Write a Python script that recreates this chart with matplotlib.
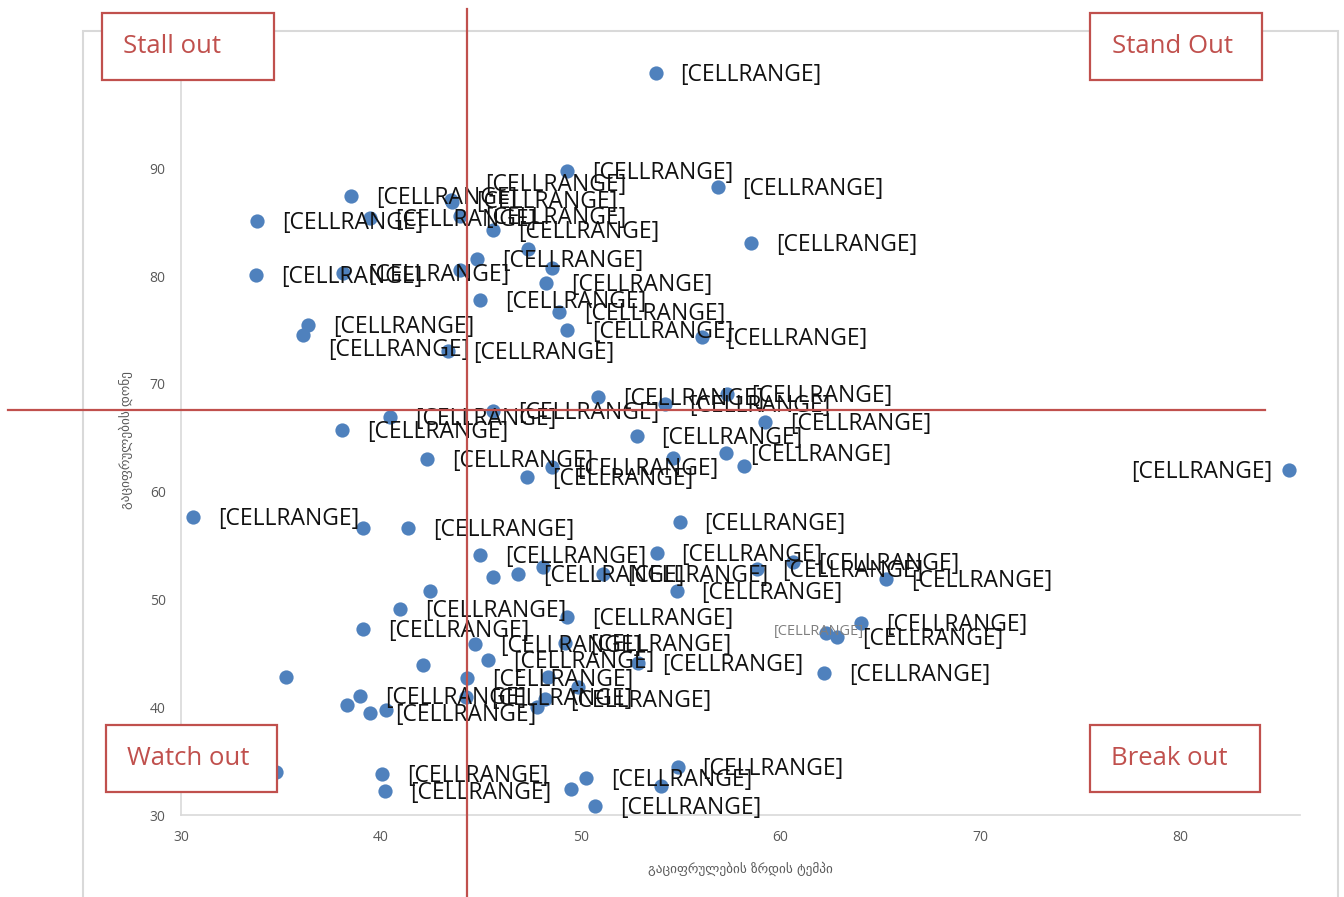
import matplotlib
matplotlib.use('Agg')
import matplotlib.pyplot as plt
from matplotlib.patches import Rectangle

# გაციფრულების ზრდის ტემპი / გაციფრულების დონე
growth = [53.75, 49.3, 56.85, 38.5, 43.5, 33.8, 39.45, 43.95, 45.6, 58.55,
          47.35, 44.8, 48.55, 43.95, 33.75, 38.1, 48.25, 44.95, 48.9, 36.35,
          36.1, 49.3, 56.05, 43.35, 50.85, 54.2, 57.3, 45.6, 40.45, 59.25,
          38.05, 52.8, 42.3, 54.6, 57.25, 48.55, 58.2, 47.3, 85.45, 30.6,
          39.1, 41.35, 54.95, 44.95, 53.8, 60.65, 45.6, 46.85, 48.1, 51.1,
          58.85, 65.3, 42.45, 54.8, 40.95, 49.3, 39.1, 64.05, 62.3, 62.85,
          44.7, 49.2, 45.35, 52.85, 42.1, 62.2, 35.25, 44.3, 48.35, 49.85,
          38.95, 38.3, 39.45, 40.25, 47.8, 48.2, 34.75, 40.05, 40.2, 50.25,
          49.5, 50.7, 54.85, 54.0, 43.55, 44.25]
level = [98.9, 89.8, 88.3, 87.4, 87.1, 85.1, 85.4, 85.6, 84.3, 83.1,
         82.5, 81.6, 80.8, 80.6, 80.1, 80.3, 79.4, 77.8, 76.7, 75.5,
         74.5, 75.0, 74.4, 73.1, 68.8, 68.1, 69.1, 67.5, 66.9, 66.5,
         65.7, 65.2, 63.0, 63.1, 63.6, 62.3, 62.4, 61.4, 62.0, 57.7,
         56.6, 56.6, 57.2, 54.1, 54.3, 53.5, 52.1, 52.4, 53.0, 52.4,
         52.8, 51.9, 50.8, 50.8, 49.1, 48.4, 47.3, 47.8, 46.9, 46.5,
         45.9, 46.0, 44.4, 44.1, 43.9, 43.2, 42.8, 42.7, 42.8, 41.9,
         41.0, 40.2, 39.5, 39.7, 40.0, 40.8, 34.0, 33.8, 32.2, 33.4,
         32.4, 30.8, 34.5, 32.7, 86.9, 40.95]

# points whose label is not visible in the chart (0-based)
no_label = {10, 12, 13, 33, 36, 40, 46, 48, 52, 64, 66, 68, 69, 71, 73, 74, 76, 80, 83}
labels = ['' if i in no_label else '[CELLRANGE]' for i in range(len(growth))]

x_ticks = [30, 40, 50, 60, 70, 80]
y_ticks = [30, 40, 50, 60, 70, 80, 90]
x_split = 44.3
y_split = 67.55
quadrants = ['Stall out', 'Stand Out', 'Watch out', 'Break out']

red = '#C0504D'
blue = '#4F81BD'
W, H = 1344, 897

fig = plt.figure(figsize=(W / 100, H / 100), dpi=100)
ax = fig.add_axes([181 / W, 1 - 815 / H, 1119 / W, 750 / H])

# outer chart border
fig.add_artist(Rectangle((83 / W, -0.02), 1255 / W, 1 - 31 / H + 0.02,
                         transform=fig.transFigure, fill=False,
                         edgecolor='#D9D9D9', lw=1.5, zorder=0))

ax.scatter(growth, level, s=105, color=blue, zorder=3, linewidths=0)

for i, (gx, ly, lab) in enumerate(zip(growth, level, labels)):
    if not lab:
        continue
    dx, dy, ha = 25, -2, 'left'
    size, col = 16.5, '#111111'
    if i == 38:
        dx, ha = -17, 'right'
    elif i == 20:
        dy = -15
    elif i == 84:
        dx, dy = 33, 17
    elif i == 58:
        dx, dy, ha, size, col = -7, 1, 'center', 10.5, '#7F7F7F'
    ax.annotate(lab, (gx, ly), xytext=(dx, dy), textcoords='offset pixels',
                ha=ha, va='center', fontsize=size, color=col,
                family=['Open Sans', 'DejaVu Sans'], zorder=4,
                annotation_clip=False)

ax.set_xlim(30, 86)
ax.set_ylim(30, 99.6)
ax.set_xticks(x_ticks)
ax.set_yticks(y_ticks)
ax.tick_params(length=0, labelsize=10, labelcolor='#595959', pad=11)
for t in ax.get_xticklabels() + ax.get_yticklabels():
    t.set_family(['Open Sans', 'DejaVu Sans'])
for side in ['top', 'right']:
    ax.spines[side].set_visible(False)
for side in ['left', 'bottom']:
    ax.spines[side].set_color('#D9D9D9')
    ax.spines[side].set_linewidth(1.2)

ax.set_xlabel('გაციფრულების ზრდის ტემპი', fontsize=9.5, color='#595959',
              family='DejaVu Sans', labelpad=12)
ax.set_ylabel('გაციფრულების დონე', fontsize=9.5, color='#595959',
              family='DejaVu Sans', labelpad=12)

# quadrant split lines
ax.axvline(x_split, ymin=-0.11, ymax=1.075, color=red, lw=1.6,
           clip_on=False, zorder=5)
ax.axhline(y_split, xmin=-0.155, xmax=0.969, color=red, lw=1.6,
           clip_on=False, zorder=5)

# quadrant boxes
boxes = [(102, 13, 172, 67, 123), (1090, 13, 172, 67, 1112),
         (106, 725, 171, 67, 127), (1090, 725, 170, 67, 1111)]
for name, (bx, by, bw, bh, tx) in zip(quadrants, boxes):
    fig.add_artist(Rectangle((bx / W, 1 - (by + bh) / H), bw / W, bh / H,
                             transform=fig.transFigure, facecolor='white',
                             edgecolor=red, lw=1.6, zorder=10))
    fig.text(tx / W, 1 - (by + bh / 2) / H, name, color=red, fontsize=18.5,
             family='Open Sans', ha='left', va='center', zorder=11)

fig.savefig('out.png', dpi=100)
